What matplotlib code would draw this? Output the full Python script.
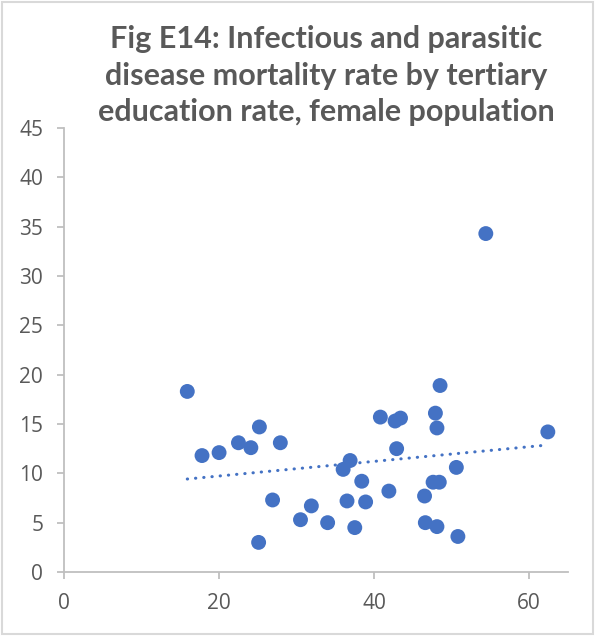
# Imports
import numpy as np
import matplotlib
matplotlib.use('Agg')
import matplotlib.pyplot as plt
from matplotlib.patches import Rectangle

# Data (tertiary education rate vs mortality rate)
edu_rate = [15.9, 17.8, 20.0, 22.5, 24.1, 25.2, 27.9, 26.9, 25.1, 30.5,
            48.5, 40.8, 42.7, 43.4, 47.9, 48.1, 62.4, 42.9, 36.9, 36.0,
            50.6, 38.4, 47.6, 48.4, 41.9, 46.5, 31.9, 36.5, 38.9, 34.0,
            37.5, 46.6, 48.1, 50.8, 54.4]
mortality = [18.3, 11.8, 12.1, 13.1, 12.6, 14.7, 13.1, 7.3, 3.0, 5.3,
             18.9, 15.7, 15.3, 15.6, 16.1, 14.6, 14.2, 12.5, 11.3, 10.4,
             10.6, 9.2, 9.1, 9.1, 8.2, 7.7, 6.7, 7.2, 7.1, 5.0,
             4.5, 5.0, 4.6, 3.6, 34.3]
x_ticks = [0, 20, 40, 60]
y_ticks = [0, 5, 10, 15, 20, 25, 30, 35, 40, 45]
title = "Fig E14: Infectious and parasitic\ndisease mortality rate by tertiary\neducation rate, female population"

blue = '#4472C4'
grey_txt = '#595959'
grey_axis = '#BFBFBF'

W, H = 595, 636
fig = plt.figure(figsize=(W / 100, H / 100), dpi=100)
ax = fig.add_axes([64 / W, (H - 572) / H, (568 - 64) / W, (572 - 128) / H])

# scatter points
ax.scatter(edu_rate, mortality, s=115, color=blue, edgecolors='none', zorder=3)

# linear trendline
k, b = np.polyfit(edu_rate, mortality, 1)
xs = np.array([min(edu_rate), max(edu_rate)])
ax.plot(xs, k * xs + b, color=blue, lw=2.2, linestyle=(0, (0.1, 2.6)),
        dash_capstyle='round', zorder=2)

ax.set_xlim(0, 65)
ax.set_ylim(0, 45)
ax.set_xticks(x_ticks)
ax.set_yticks(y_ticks)
for s in ['top', 'right']:
    ax.spines[s].set_visible(False)
for s in ['left', 'bottom']:
    ax.spines[s].set_color(grey_axis)
    ax.spines[s].set_linewidth(1.3)
ax.tick_params(colors=grey_axis, labelcolor=grey_txt, labelsize=15,
               length=5, width=1.3)
ax.tick_params(axis='y', pad=10)
ax.tick_params(axis='x', pad=10)
for lab in ax.get_xticklabels() + ax.get_yticklabels():
    lab.set_family('Open Sans')

fig.text(326 / W, 1 - 25 / H, title, ha='center', va='top', fontsize=22,
         fontweight='bold', color=grey_txt, family='Lato', linespacing=1.38)

# chart border
fig.patches.append(Rectangle((0.003, 0.003), 0.994, 0.994, transform=fig.transFigure,
                             fill=False, edgecolor='#D9D9D9', lw=1.5))

fig.savefig('out.png', dpi=100)
